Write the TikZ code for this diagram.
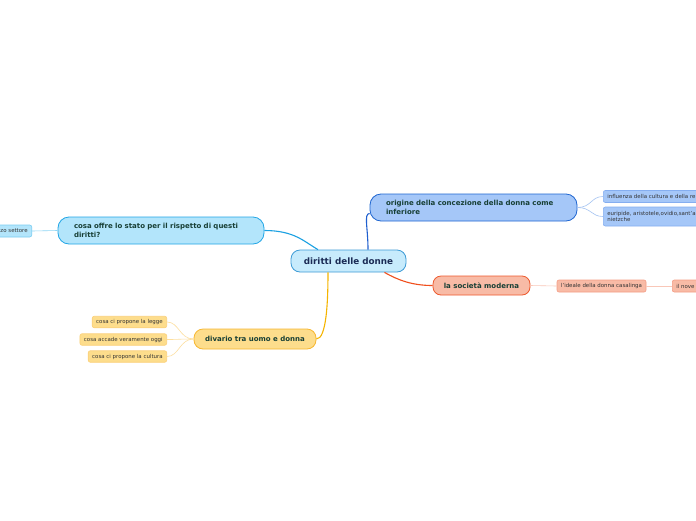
\documentclass[tikz,border=0pt]{standalone}
\usepackage{fontspec}
\setmainfont{DejaVu Sans}
\usetikzlibrary{calc}
\definecolor{cenF}{HTML}{C7EBFC}\definecolor{cenD}{HTML}{3D9BD6}\definecolor{cenT}{HTML}{1B2B55}
\definecolor{oriF}{HTML}{A5C7F8}\definecolor{oriD}{HTML}{1F66D1}\definecolor{oriL}{HTML}{1F5FCF}
\definecolor{cosF}{HTML}{B3E5FB}\definecolor{cosD}{HTML}{22A6E6}\definecolor{cosL}{HTML}{1BA1E2}
\definecolor{divF}{HTML}{FDDD8C}\definecolor{divD}{HTML}{F7B731}\definecolor{divL}{HTML}{F5B400}
\definecolor{socF}{HTML}{F8BBA6}\definecolor{socD}{HTML}{EE5A2E}\definecolor{socL}{HTML}{F04F1D}
\definecolor{oriS}{HTML}{85AEF0}\definecolor{oriSL}{HTML}{A4C3F2}
\definecolor{cosS}{HTML}{7ACDF2}\definecolor{cosSL}{HTML}{8FD6F5}
\definecolor{divS}{HTML}{FBD07A}\definecolor{divSL}{HTML}{FDDFA0}
\definecolor{socS}{HTML}{F49C84}\definecolor{socSL}{HTML}{F9C7B8}
\definecolor{mainT}{HTML}{173F35}\definecolor{subT}{HTML}{333333}
\tikzset{
  central/.style={draw=cenD, fill=cenF, line width=0.8pt, rounded corners=9pt, text=cenT,
    font=\fontsize{8.8}{10}\selectfont\bfseries, minimum width=115pt, minimum height=22pt, inner sep=0pt},
  topic/.style={line width=0.8pt, rounded corners=11pt, text=mainT,
    font=\fontsize{7}{8.4}\selectfont\bfseries, inner ysep=0pt},
  sub/.style={line width=0.6pt, rounded corners=2pt, text=subT,
    font=\fontsize{5.45}{6.6}\selectfont, inner xsep=4pt, inner ysep=0pt, minimum height=12pt},
  conn/.style={line width=1.1pt},
  subconn/.style={line width=0.6pt}
}
\begin{document}
\begin{tikzpicture}[x=1pt,y=-1pt]
\useasboundingbox (0,0) rectangle (696,520);
\clip (0,0) rectangle (696,520);
\fill[white] (0,0) rectangle (696,520);
% central
\node[central] (c) at (348.5,261) {diritti delle donne};
% topics
\node[topic, draw=oriD, fill=oriF, minimum width=207pt, minimum height=27pt, text width=175pt, align=left, inner xsep=16pt]
  (o) at (473.5,207.5) {origine della concezione della donna come\\inferiore};
\node[topic, draw=cosD, fill=cosF, minimum width=206pt, minimum height=27pt, text width=174pt, align=left, inner xsep=16pt]
  (co) at (161,230.5) {cosa offre lo stato per il rispetto di questi\\diritti?};
\node[topic, draw=divD, fill=divF, minimum width=122pt, minimum height=20pt, inner xsep=0pt, rounded corners=9pt]
  (d) at (255,339) {divario tra uomo e donna};
\node[topic, draw=socD, fill=socF, minimum width=97pt, minimum height=19pt, inner xsep=0pt, rounded corners=8pt]
  (s) at (481.5,285.5) {la società moderna};
% sub nodes: origine
\node[sub, draw=oriS, fill=oriF, anchor=west, text width=112pt, align=left] (o1) at (603,196.5)
  {influenza della cultura e della re};
\node[sub, draw=oriS, fill=oriF, anchor=west, text width=112pt, align=left, minimum height=19pt] (o2) at (603,216.5)
  {euripide, aristotele,ovidio,sant'a\\nietzche};
% sub nodes: società
\node[sub, draw=socS, fill=socF, minimum width=89pt] (s1) at (601.5,286) {l'ideale della donna casalinga};
\node[sub, draw=socS, fill=socF, anchor=west, text width=40pt, align=left] (s2) at (672,286) {il nove};
% sub node: cosa offre
\node[sub, draw=cosS, fill=cosF, anchor=east, inner xsep=4pt] (co1) at (32,231) {zo settore};
% sub nodes: divario
\node[sub, draw=divS, fill=divF, anchor=east, minimum height=11.5pt] (d1) at (167,322) {cosa ci propone la legge};
\node[sub, draw=divS, fill=divF, anchor=east, minimum height=11.5pt] (d2) at (167,339.5) {cosa accade veramente oggi};
\node[sub, draw=divS, fill=divF, anchor=east, minimum height=11.5pt] (d3) at (167,356.5) {cosa ci propone la cultura};
% main connectors
\draw[conn, oriL] ($(c.north)+(19.5,0)$) .. controls +(0,-22) and +(-6,0) .. ($(o.west)+(0,6)$);
\draw[conn, cosL] (co.east) .. controls +(30,0) and +(-14,-8) .. ($(c.north)+(-30.5,0)$);
\draw[conn, divL] (d.east) .. controls +(10,0) and +(0,30) .. ($(c.south)+(-20.5,0)$);
\draw[conn, socL] ($(c.south)+(36,0)$) .. controls +(14,8) and +(-20,0) .. (s.west);
% sub connectors
\draw[subconn, oriSL] (o.east) .. controls +(14,0) and +(-12,0) .. (o1.west);
\draw[subconn, oriSL] (o.east) .. controls +(14,0) and +(-12,0) .. (o2.west);
\draw[subconn, socSL] (s.east) -- (s1.west);
\draw[subconn, socSL] (s1.east) -- (s2.west);
\draw[subconn, cosSL] (co.west) -- (co1.east);
\draw[subconn, divSL] (d.west) .. controls +(-14,0) and +(12,0) .. (d1.east);
\draw[subconn, divSL] (d.west) .. controls +(-14,0) and +(12,0) .. (d2.east);
\draw[subconn, divSL] (d.west) .. controls +(-14,0) and +(12,0) .. (d3.east);
\end{tikzpicture}
\end{document}
